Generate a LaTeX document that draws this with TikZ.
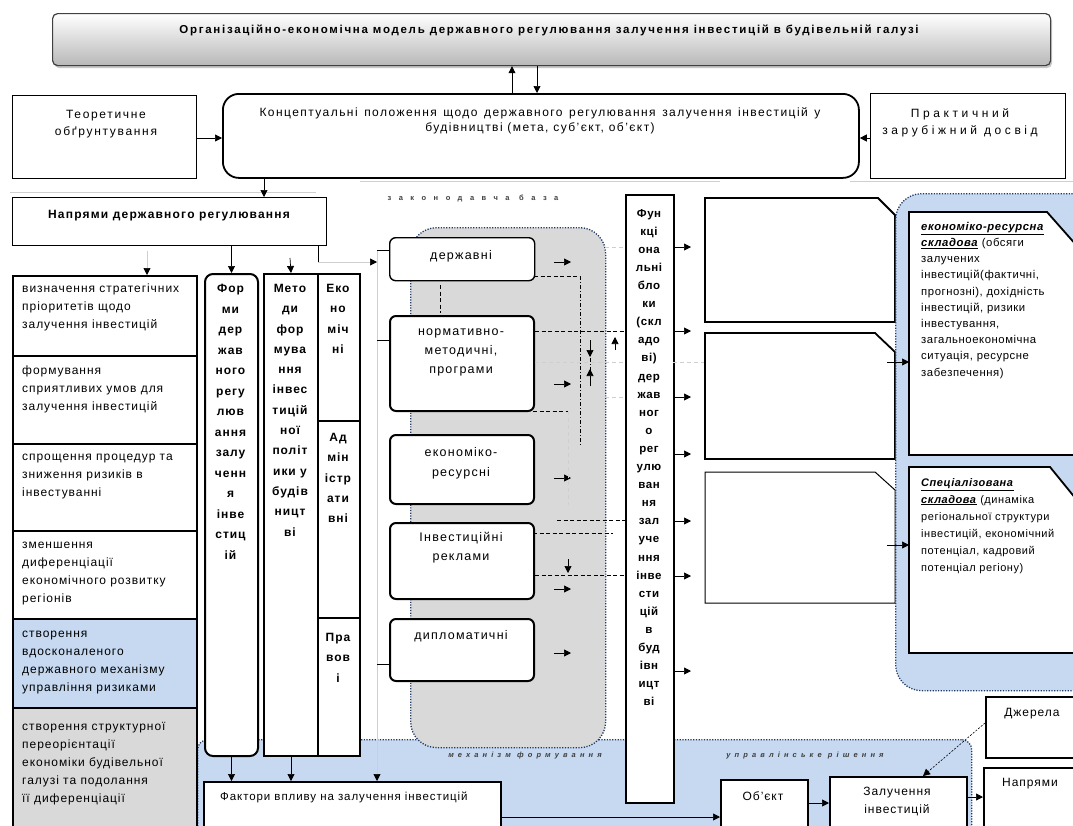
\documentclass[tikz,border=0pt]{standalone}
\usepackage{fontspec}
\setmainfont[LetterSpace=8]{Liberation Sans}
\usetikzlibrary{arrows.meta,shadows}
\definecolor{bluef}{HTML}{C6D9F1}
\definecolor{grayf}{HTML}{D9D9D9}
\definecolor{navy}{HTML}{203864}
\definecolor{lgray}{HTML}{CFCFCF}
\newcommand{\fsz}[2]{\fontsize{#1}{#2}\selectfont}
\begin{document}
\begin{tikzpicture}[x=1pt,y=-1pt,
  box/.style={draw, fill=white, line width=1.2pt, inner sep=0pt, anchor=north west},
  tbox/.style={box, line width=2pt},
  tx/.style={inner sep=0pt, align=center, font=\fsz{11.5}{15}},
  txl/.style={inner sep=0pt, align=left, anchor=north west, font=\fsz{12}{18}},
  col/.style={inner sep=0pt, align=center, anchor=north, font=\bfseries\fsz{12}{20.3}},
  arr/.style={-{Triangle[length=7pt,width=7pt]}, line width=0.7pt},
  arrg/.style={-{Triangle[length=7pt,width=7pt,color=black]}, draw=lgray, line width=0.7pt},
  region/.style={draw=navy, line width=1.3pt, dash pattern=on 1.2pt off 1.5pt, inner sep=0pt, anchor=north west},
  dsh/.style={dash pattern=on 4pt off 2.5pt, line width=0.8pt},
  ddot/.style={dash pattern=on 4pt off 2pt on 1pt off 2pt, line width=0.8pt},
  faint/.style={draw=lgray, line width=0.6pt, dash pattern=on 4pt off 3pt},
  lab/.style={inner sep=0pt, font=\bfseries\itshape\fsz{7.5}{9}\addfontfeature{LetterSpace=55}, text=black!75},
]
\useasboundingbox (0,0) rectangle (1073,825);

% faint guide lines
\draw[lgray, line width=1pt] (10,192) -- (316,192);
\draw[lgray, line width=1pt] (360,181) -- (720,181) (850,181) -- (1073,181);

% title
\node[box, draw=black!75, rounded corners=5pt, top color=white, bottom color=black!28,
  drop shadow={shadow xshift=1.5pt, shadow yshift=-2.5pt, opacity=.45},
  minimum width=998, minimum height=52] (title) at (52,13) {};
\node[inner sep=0pt, font=\bfseries\fsz{11.5}{12}\addfontfeature{LetterSpace=15}] (titletx) at (549,30)
  {Організаційно-економічна модель державного регулювання залучення інвестицій в будівельній галузі};

% concept row
\node[box, line width=1.8pt, rounded corners=16pt, minimum width=636, minimum height=84] (concept) at (222,93) {};
\node[tx, font=\fsz{12}{15.5}\addfontfeature{LetterSpace=12}] (concepttx) at (540,121)
  {\makebox[561pt][s]{Концептуальні положення щодо державного регулювання залучення інвестицій у}\\будівництві (мета, суб'єкт, об'єкт)};
\node[box, minimum width=184, minimum height=83] (theor) at (12,95) {};
\node[tx, font=\fsz{12}{17}\addfontfeature{LetterSpace=14}] (theortx) at (106,124) {Теоретичне\\обґрунтування};
\node[box, minimum width=195, minimum height=85] (pract) at (870,93) {};
\node[tx, font=\fsz{12}{17}\addfontfeature{LetterSpace=30}] (practtx) at (960,123) {Практичний\\зарубіжний досвід};

\coordinate (xu) at (512,0); \coordinate (xd) at (537,0); \coordinate (ym) at (0,138);
\draw[arr] (concept.north -| xu) -- (title.south -| xu);
\draw[arr] (title.south -| xd) -- (concept.north -| xd);
\draw[arr] (theor.east |- ym) -- (concept.west |- ym);
\draw[arr] (pract.west |- ym) -- (concept.east |- ym);

% directions
\node[box, minimum width=314, minimum height=48] (napr) at (12,197) {};
\node[tx, font=\bfseries\fsz{12}{13}\addfontfeature{LetterSpace=10}] (naprtx) at (169,216) {Напрями державного регулювання};
\coordinate (xn) at (264,0);
\draw[arr] (concept.south -| xn) -- (napr.north -| xn);

% bottom blue region
\node[region, fill=bluef, rounded corners=10pt, minimum width=774, minimum height=120] (breg) at (197,739) {};

% left column
\node[tbox, minimum width=184, minimum height=80] (lc1) at (12,275) {};
\node[tbox, minimum width=184, minimum height=88] (lc2) at (12,355) {};
\node[tbox, minimum width=184, minimum height=87] (lc3) at (12,443) {};
\node[tbox, minimum width=184, minimum height=88] (lc4) at (12,530) {};
\node[tbox, fill=bluef, minimum width=184, minimum height=89] (lc5) at (12,618) {};
\node[tbox, fill=grayf, minimum width=184, minimum height=130] (lc6) at (12,707) {};
\node[txl] (lc1tx) at (22,284) {визначення стратегічних\\пріоритетів щодо\\залучення інвестицій};
\node[txl] (lc2tx) at (22,366) {формування\\сприятливих умов для\\залучення інвестицій};
\node[txl] (lc3tx) at (22,454) {спрощення процедур та\\зниження ризиків в\\інвестуванні};
\node[txl] (lc4tx) at (22,542) {зменшення\\диференціації\\економічного розвитку\\регіонів};
\node[txl] (lc5tx) at (22,631) {створення\\вдосконаленого\\державного механізму\\управління ризиками};
\node[txl] (lc6tx) at (22,722) {створення структурної\\переорієнтації\\економіки будівельної\\галузі та подолання\\її диференціації};

% forms / methods / types
\node[tbox, rounded corners=8pt, minimum width=53, minimum height=482] (forms) at (204,273) {};
\node[col, font=\bfseries\fsz{12}{20.5}] (formstx) at (230.5,284) {Фор\\ми\\дер\\жав\\ного\\регу\\люв\\ання\\залу\\ченн\\я\\інве\\стиц\\ій};
\node[tbox, minimum width=54, minimum height=482] (methods) at (263,273) {};
\node[col] (methodstx) at (290,284) {Мето\\ди\\фор\\мува\\ння\\інвес\\тицій\\ної\\політ\\ики у\\будів\\ницт\\ві};
\node[tbox, minimum width=42, minimum height=147] (eco) at (317,273) {};
\node[col] (ecotx) at (338,284) {Еко\\но\\міч\\ні};
\node[tbox, minimum width=42, minimum height=197] (adm) at (317,420) {};
\node[col] (admtx) at (338,433) {Ад\\мін\\істр\\ати\\вні};
\node[tbox, minimum width=42, minimum height=138] (prav) at (317,617) {};
\node[col] (pravtx) at (338,633) {Пра\\вов\\і};

\coordinate (a1) at (147,251); \coordinate (m1) at (290,258); \coordinate (b1) at (318,262); \coordinate (bus) at (377,262);
\draw[arrg] (a1) -- (a1 |- lc1.north);
\draw[arr] (forms.north |- napr.south) -- (forms.north);
\draw[arr] (m1) -- (methods.north);
\draw[line width=0.7pt] (b1 |- napr.south) -- (b1);
\draw[arrg] (b1) -- (bus);

% middle gray region
\node[region, fill=grayf, rounded corners=26pt, minimum width=195, minimum height=520] (greg) at (410,227) {};
\node[inner sep=0pt, font=\bfseries\fsz{7.5}{9}\addfontfeature{LetterSpace=100}, text=black!75] (gregtx) at (473,198) {законодавча база};
\node[box, line width=1.4pt, rounded corners=6pt, minimum width=145, minimum height=43] (mb1) at (389,237) {};
\node[box, line width=2pt, rounded corners=6pt, minimum width=144, minimum height=95] (mb2) at (389,315) {};
\node[box, line width=2pt, rounded corners=6pt, minimum width=144, minimum height=69] (mb3) at (389,434) {};
\node[box, line width=2pt, rounded corners=6pt, minimum width=144, minimum height=76] (mb4) at (389,522) {};
\node[box, line width=2pt, rounded corners=6pt, minimum width=144, minimum height=62] (mb5) at (389,618) {};
\node[tx, font=\fsz{12.5}{19}\addfontfeature{LetterSpace=10}] (mb1tx) at (461,256) {державні};
\node[tx, font=\fsz{12.5}{19}\addfontfeature{LetterSpace=10}] (mb2tx) at (461,352) {нормативно-\\методичні,\\програми};
\node[tx, font=\fsz{12.5}{20}\addfontfeature{LetterSpace=10}] (mb3tx) at (461,463) {економіко-\\ресурсні};
\node[tx, font=\fsz{12.5}{19}\addfontfeature{LetterSpace=10}] (mb4tx) at (461,548) {Інвестиційні\\реклами};
\node[tx, font=\fsz{12.5}{19}\addfontfeature{LetterSpace=10}] (mb5tx) at (461,636) {дипломатичні};

% bus line into the middle boxes and factors
\draw[lgray, line width=0.8pt] (377,250) -- (377,760);
\foreach \n/\yy in {mb1/250, mb2/340, mb5/664}{
  \coordinate (t\n) at (0,\yy);
  \draw[line width=0.8pt] (377,\yy) -- (\n.west |- t\n);
}
\foreach \yy in {262,384,478,589,653}{
  \draw[arr] (554,\yy) -- (571,\yy);
}

% functional column
\node[tbox, minimum width=48, minimum height=608] (func) at (625,194) {};
\node[col, font=\bfseries\fsz{11.5}{18.1}\addfontfeature{LetterSpace=5}] (functx) at (649,209)
  {Фун\\кці\\она\\льні\\бло\\ки\\(скл\\адо\\ві)\\дер\\жав\\ног\\о\\рег\\улю\\ван\\ня\\зал\\уче\\ння\\інве\\сти\\цій\\в\\буд\\івн\\ицт\\ві};
\foreach \yy in {247,331,397,454,521,576,671}{
  \coordinate (fy) at (0,\yy);
  \draw[arr] (func.east |- fy) -- (691,\yy);
}

% dashed links inside the gray region
\draw[dsh] (534,276) -- (580,276);
\draw[ddot] (580,276) -- (580,446);
\draw[dsh, line width=0.6pt] (440,285) -- (440,313);
\coordinate (y331) at (0,331);
\draw[dsh] (mb2.east |- y331) -- (func.west |- y331);
\draw[arr] (615,350) -- (615,337);
\draw[ddot] (590,340) -- (590,385);
\draw[arr] (590,340) -- (590,357);
\draw[arr] (590,386) -- (590,369);
\draw[dsh] (533,411) -- (568,411);
\coordinate (y520) at (0,520); \coordinate (y575) at (0,575);
\draw[dsh] (557,520) -- (func.west |- y520);
\draw[dsh] (533,533) -- (613,533);
\draw[dsh] (mb4.east |- y575) -- (func.west |- y575);
\draw[arr] (568,559) -- (568,573);
\draw[faint] (605,247) -- (625,247);
\draw[faint] (535,362) -- (625,362) (673,362) -- (888,362);
\draw[faint] (605,397) -- (625,397);
\draw[faint] (568,411) -- (568,505);

% three blank snipped boxes
\draw[line width=1.8pt, fill=white] (705,198) -- (878,198) -- (895,215) -- (895,322) -- (705,322) -- cycle;
\draw[line width=1.8pt, fill=white] (705,333) -- (875,333) -- (895,352) -- (895,459) -- (705,459) -- cycle;
\draw[line width=1pt, fill=white] (705,472) -- (875,472) -- (895,490) -- (895,603) -- (705,603) -- cycle;

% right blue region
\node[region, fill=bluef, rounded corners=26pt, minimum width=230, minimum height=497] (rreg) at (895,193) {};
\draw[line width=1.8pt, fill=white] (909,212) -- (1047,212) -- (1085,255) -- (1085,455) -- (909,455) -- cycle;
\draw[line width=1.8pt, fill=white] (909,467) -- (1050,467) -- (1085,510) -- (1085,653) -- (909,653) -- cycle;
\coordinate (ea) at (909,362); \coordinate (eb) at (909,545);
\draw[arr] (887,362) -- (ea);
\draw[arr] (887,545) -- (eb);
\node[txl, font=\fsz{11.3}{16.2}\addfontfeature{LetterSpace=5}] (atx) at (921,222)
  {\underline{\textbf{\textit{економіко-ресурсна}}}\\
   \underline{\textbf{\textit{складова}}} (обсяги\\
   залучених\\
   інвестицій(фактичні,\\
   прогнозні), дохідність\\
   інвестицій, ризики\\
   інвестування,\\
   загальноекономічна\\
   ситуація, ресурсне\\
   забезпечення)};
\node[txl, font=\fsz{11}{17}\addfontfeature{LetterSpace=5}] (btx) at (921,478)
  {\underline{\textbf{\textit{Спеціалізована}}}\\
   \underline{\textbf{\textit{складова}}} (динаміка\\
   регіональної структури\\
   інвестицій, економічний\\
   потенціал, кадровий\\
   потенціал регіону)};

% bottom labels
\node[lab] (lab1) at (525,756) {механізм формування};
\node[lab] (lab2) at (805,756) {управлінське рішення};

% bottom boxes
\node[tbox, minimum width=297, minimum height=60] (factor) at (203,781) {};
\node[txl, font=\fsz{11.5}{12}] (factortx) at (220,792) {Фактори впливу на залучення інвестицій};
\node[tbox, minimum width=87, minimum height=60] (object) at (720,779) {};
\node[tx, font=\fsz{12}{12}] (objecttx) at (763,796) {Об'єкт};
\node[tbox, minimum width=137, minimum height=60] (zal) at (829,776) {};
\node[tx, font=\fsz{12}{18}] (zaltx) at (897,801) {Залучення\\інвестицій};
\node[tbox, minimum width=100, minimum height=61] (dzh) at (985,696) {};
\node[tx, font=\fsz{12}{12}] (dzhtx) at (1032,714) {Джерела};
\node[tbox, minimum width=100, minimum height=70] (napr2) at (983,767) {};
\node[tx, font=\fsz{12}{12}] (napr2tx) at (1030,784) {Напрями};

\coordinate (xbus) at (377,0);
\draw[arr] (forms.south) -- (factor.north -| forms.south);
\draw[arr] (methods.south) -- (factor.north -| methods.south);
\draw[arrg] (377,758) -- (factor.north -| xbus);
\coordinate (y817) at (0,817); \coordinate (y803) at (0,803); \coordinate (y797) at (0,797);
\coordinate (y723) at (0,723); \coordinate (x923) at (923,0);
\draw[arr] (factor.east |- y817) -- (object.west |- y817);
\draw[arr] (object.east |- y803) -- (zal.west |- y803);
\draw[arr] (zal.east |- y797) -- (napr2.west |- y797);
\draw[arr, dash pattern=on 2pt off 1.5pt, line width=0.6pt] (dzh.west |- y723) -- (zal.north -| x923);
\end{tikzpicture}
\end{document}
